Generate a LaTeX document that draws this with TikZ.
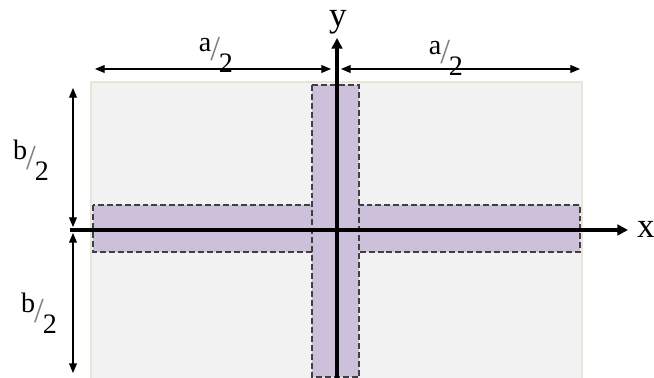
\documentclass[tikz,border=0pt]{standalone}
\usepackage{fontspec}
\setmainfont{Liberation Serif}
\usepackage{xcolor}
\usetikzlibrary{arrows.meta}

\definecolor{platefill}{HTML}{F2F2F2}
\definecolor{plateedge}{HTML}{E8E6D8}
\definecolor{stripfill}{HTML}{CCC0DA}
\newcommand{\halfof}[1]{\raisebox{0.35em}{#1}\kern-0.04em{\color{gray}\fontsize{20}{20}\selectfont/}\kern-0.04em\raisebox{-0.4em}{2}}

\begin{document}
\begin{tikzpicture}[x=0.02cm, y=-0.02cm, >=Latex,
    plate/.style={fill=platefill, draw=plateedge, line width=1.4pt},
    strip/.style={fill=stripfill, draw=black!75, dash pattern=on 3.4pt off 1.7pt, line width=0.6pt},
    axis/.style={line width=2pt, -{Triangle[length=6pt, width=6pt]}},
    dim/.style={line width=0.6pt, {Triangle[length=5.5pt, width=4.5pt]}-{Triangle[length=5.5pt, width=4.5pt]}},
    lbl/.style={font=\fontsize{16}{17}\selectfont, inner sep=0pt},
    axlbl/.style={font=\fontsize{20}{20}\selectfont, inner sep=0pt}]
    \useasboundingbox (0,0) rectangle (654,378);

    % plate and strips
    \draw[plate] (91,82) rectangle (582,380);
    \draw[strip] (93,205) rectangle (580,252);
    \draw[strip] (312,85) rectangle (359,377);

    % axes
    \coordinate (xs) at (70,230);
    \coordinate (xe) at (628,230);
    \coordinate (ys) at (337,378);
    \coordinate (ye) at (337,38);
    \node[axlbl] (x) at (646,229) {x};
    \node[axlbl] (y) at (338,22) {y};
    \draw[axis] (xs) -- (xe);
    \draw[axis] (ys) -- (ye);

    % dimensions
    \coordinate (a1) at (95,69);
    \coordinate (a2) at (331,69);
    \coordinate (a3) at (341,69);
    \coordinate (a4) at (580,69);
    \coordinate (b1) at (73,88);
    \coordinate (b2) at (73,227);
    \coordinate (b3) at (73,233);
    \coordinate (b4) at (73,373);
    \draw[dim] (a1) -- (a2);
    \draw[dim] (a3) -- (a4);
    \draw[dim] (b1) -- (b2);
    \draw[dim] (b3) -- (b4);

    \node[lbl] (ahalfl) at (216,55) {\halfof{a}};
    \node[lbl] (ahalfr) at (446,58) {\halfof{a}};
    \node[lbl] (bhalft) at (31,160) {\halfof{b}};
    \node[lbl] (bhalfb) at (39,313) {\halfof{b}};
\end{tikzpicture}
\end{document}
